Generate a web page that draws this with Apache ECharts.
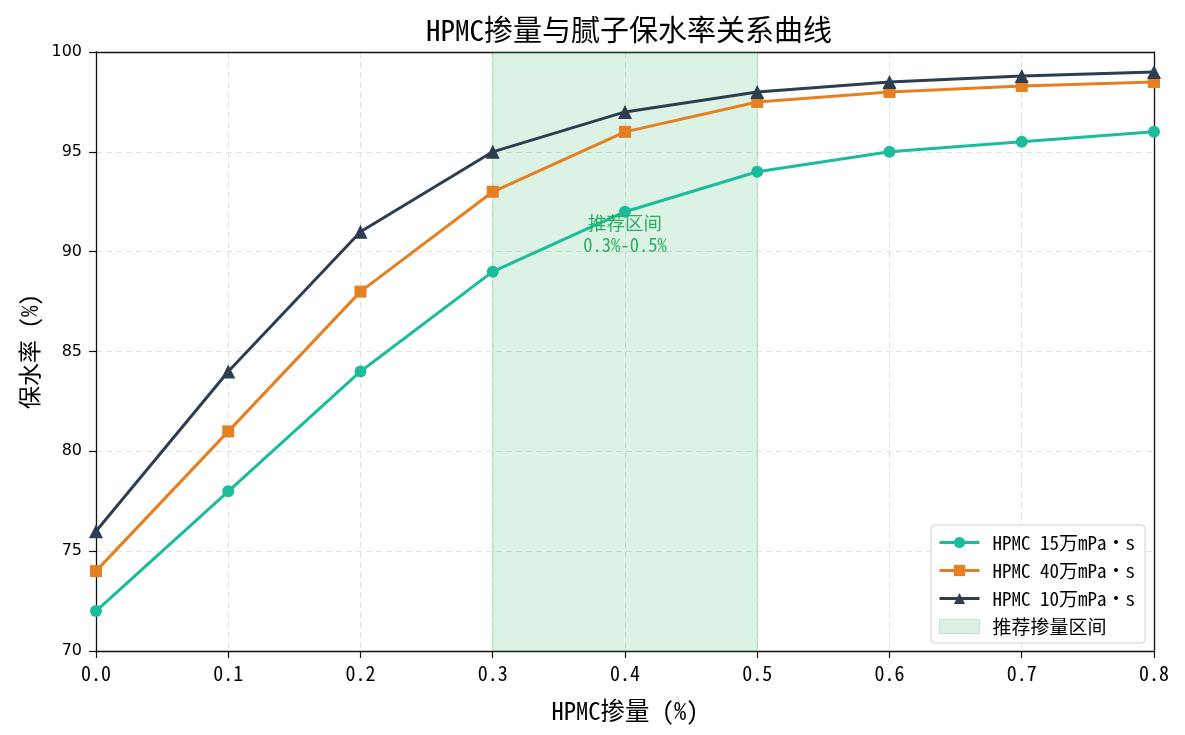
<!DOCTYPE html>
<html>
<head>
<meta charset="utf-8">
<script src="https://cdn.jsdelivr.net/npm/echarts@6/dist/echarts.min.js"></script>
<style>
  html,body{margin:0;padding:0;background:#fff;}
  #main{width:1185px;height:735px;}
</style>
</head>
<body>
<div id="main"></div>
<script>
var dosage = [0.0, 0.1, 0.2, 0.3, 0.4, 0.5, 0.6, 0.7, 0.8];
var hpmc15 = [72, 78, 84, 89, 92, 94, 95, 95.5, 96];
var hpmc40 = [74, 81, 88, 93, 96, 97.5, 98, 98.3, 98.5];
var hpmc10 = [76, 84, 91, 95, 97, 98, 98.5, 98.8, 99];
var rangeStart = 0.3, rangeEnd = 0.5;
var noteAt = [0.4, 90.9];

var FONT = '"Noto Sans Mono CJK SC", "Noto Sans CJK SC", monospace';
var NUMFONT = '"DejaVu Sans", sans-serif';

function pairs(ys){
  var res = [];
  for(var i=0;i<dosage.length;i++){
    res.push([dosage[i], ys[i]]);
  }
  return res;
}

function lineSeries(name, ys, color, symbol){
  return {
    name:name,
    type:'line',
    data:pairs(ys),
    symbol:symbol,
    symbolSize:symbol=='triangle' ? 14 : 12,
    showAllSymbol:true,
    lineStyle:{color:color, width:3},
    itemStyle:{color:color},
    z:3
  };
}

var chart = echarts.init(document.getElementById('main'), null, {renderer:'canvas'});
chart.setOption({
  animation:false,
  backgroundColor:'#fff',
  textStyle:{fontFamily:FONT},
  title:{
    text:'HPMC掺量与腻子保水率关系曲线',
    left:421,
    top:10,
    textStyle:{fontFamily:FONT, fontSize:29, fontWeight:'normal', color:'#000'}
  },
  grid:{
    left:96, right:31, top:52, bottom:84,
    show:false
  },
  legend:{
    orient:'vertical',
    right:40,
    bottom:92,
    itemWidth:40,
    itemHeight:14,
    itemGap:9,
    padding:[8,10,7,7],
    backgroundColor:'#fff',
    borderColor:'#d0d0d0',
    borderWidth:1,
    borderRadius:4,
    lineStyle:{width:3},
    textStyle:{fontFamily:FONT, fontSize:19, color:'#000', padding:[0,0,0,8]},
    data:[
      {name:'HPMC 15万mPa・s'},
      {name:'HPMC 40万mPa・s'},
      {name:'HPMC 10万mPa・s'},
      {name:'推荐掺量区间', icon:'rect', itemStyle:{color:'#ddf0e6', borderColor:'#bfe3cd', borderWidth:1}}
    ]
  },
  xAxis:[{
    type:'value',
    min:0, max:0.8, interval:0.1,
    name:'HPMC掺量 (%)',
    nameLocation:'middle',
    nameGap:47,
    nameTextStyle:{fontFamily:FONT, fontSize:24.5, color:'#000'},
    axisLine:{show:true, onZero:false, lineStyle:{color:'#111', width:1.3}},
    axisTick:{show:true, length:7, lineStyle:{color:'#111', width:1.2}},
    axisLabel:{fontFamily:FONT, fontSize:20, color:'#000', margin:12,
      formatter:function(v){ return v.toFixed(1); }},
    splitLine:{show:true, lineStyle:{color:'#e2e2e2', type:[6,4], width:1}}
  },{
    type:'value',
    position:'top',
    min:0, max:0.8, interval:0.1,
    axisLine:{show:true, onZero:false, lineStyle:{color:'#111', width:1.3}},
    axisTick:{show:false},
    axisLabel:{show:false},
    splitLine:{show:false}
  }],
  yAxis:[{
    type:'value',
    min:70, max:100, interval:5,
    name:'保水率 (%)',
    nameLocation:'middle',
    nameGap:52,
    nameRotate:90,
    nameTextStyle:{fontFamily:FONT, fontSize:23, color:'#000'},
    axisLine:{show:true, onZero:false, lineStyle:{color:'#111', width:1.3}},
    axisTick:{show:true, length:7, lineStyle:{color:'#111', width:1.2}},
    axisLabel:{fontFamily:NUMFONT, fontSize:16, color:'#000', margin:14},
    splitLine:{show:true, lineStyle:{color:'#e2e2e2', type:[6,4], width:1}}
  },{
    type:'value',
    position:'right',
    min:70, max:100, interval:5,
    axisLine:{show:true, onZero:false, lineStyle:{color:'#111', width:1.3}},
    axisTick:{show:false},
    axisLabel:{show:false},
    splitLine:{show:false}
  }],
  series:[
    {
      name:'推荐掺量区间',
      type:'line',
      data:[],
      itemStyle:{color:'#ddf0e6'},
      markArea:{
        silent:true,
        itemStyle:{color:'rgba(39,174,96,0.16)', borderColor:'rgba(39,174,96,0.3)', borderWidth:1},
        data:[[{xAxis:rangeStart}, {xAxis:rangeEnd}]]
      },
      markPoint:{
        symbol:'circle',
        symbolSize:0,
        label:{
          show:true,
          position:'inside',
          formatter:'推荐区间\n0.3%-0.5%',
          color:'#27ae60',
          fontFamily:FONT,
          fontSize:18.5,
          lineHeight:22,
          align:'center'
        },
        data:[{coord:noteAt}]
      },
      z:1
    },
    lineSeries('HPMC 15万mPa・s', hpmc15, '#1abc9c', 'circle'),
    lineSeries('HPMC 40万mPa・s', hpmc40, '#e67e22', 'rect'),
    lineSeries('HPMC 10万mPa・s', hpmc10, '#2c3e50', 'triangle')
  ]
});
</script>
</body>
</html>
